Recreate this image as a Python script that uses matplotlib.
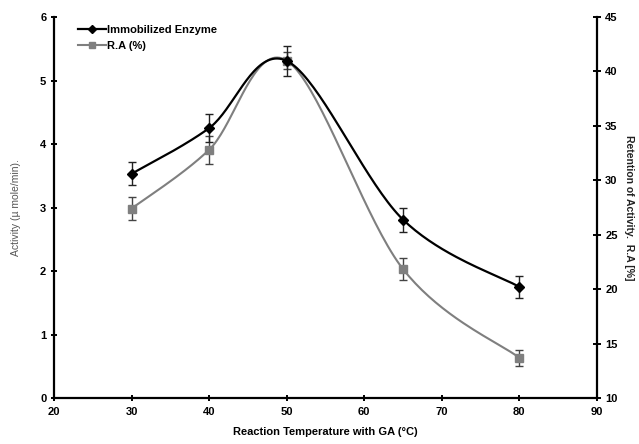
import numpy as np
import matplotlib
matplotlib.use("Agg")
import matplotlib.pyplot as plt
from matplotlib.lines import Line2D

plt.rcParams['font.family'] = ['Liberation Sans', 'DejaVu Sans']

# Data
temperature = [30, 40, 50, 65, 80]
activity = [3.53, 4.25, 5.31, 2.81, 1.75]          # µ mole/min
activity_err = [0.18, 0.22, 0.24, 0.19, 0.17]
retention = [27.4, 32.8, 41.0, 21.85, 13.7]        # R.A (%)
retention_err = [1.05, 1.3, 0.8, 1.0, 0.75]

x_ticks = [20, 30, 40, 50, 60, 70, 80, 90]
left_ticks = [0, 1, 2, 3, 4, 5, 6]
right_ticks = [10, 15, 20, 25, 30, 35, 40, 45]


def smooth(xs, ys, n=40):
    """Bezier smoothing through points (tangent = (P[i+1]-P[i-1])/6)."""
    p = np.column_stack([xs, ys]).astype(float)
    m = len(p)
    out = []
    for i in range(m - 1):
        p0 = p[max(i - 1, 0)]
        p1 = p[i]
        p2 = p[i + 1]
        p3 = p[min(i + 2, m - 1)]
        c1 = p1 + (p2 - p0) / 6.0
        c2 = p2 - (p3 - p1) / 6.0
        t = np.linspace(0, 1, n)[:, None]
        seg = ((1 - t) ** 3) * p1 + 3 * ((1 - t) ** 2) * t * c1 + 3 * (1 - t) * t ** 2 * c2 + t ** 3 * p2
        out.append(seg if i == 0 else seg[1:])
    out = np.vstack(out)
    return out[:, 0], out[:, 1]


fig = plt.figure(figsize=(6.39, 4.44), dpi=100)
ax = fig.add_axes([0.0845, 0.1036, 0.8495, 0.8581])
ax2 = ax.twinx()

gray = '#7f7f7f'

# Retention series (right axis)
sx, sy = smooth(temperature, retention)
ax2.plot(sx, sy, color=gray, lw=1.5, zorder=2)
ax2.errorbar(temperature, retention, yerr=retention_err, fmt='none',
             ecolor='#444444', elinewidth=1.0, capsize=3, capthick=1.0, zorder=3)
ax2.plot(temperature, retention, ls='none', marker='s', ms=6,
         color=gray, zorder=4)

# Activity series (left axis)
bx, by = smooth(temperature, activity)
ax.plot(bx, by, color='black', lw=1.6, zorder=2)
ax.errorbar(temperature, activity, yerr=activity_err, fmt='none',
            ecolor='#222222', elinewidth=1.0, capsize=3, capthick=1.0, zorder=3)
ax.plot(temperature, activity, ls='none', marker='D', ms=5, color='black', zorder=4)

# bring left axis artists above the twin
ax.set_zorder(ax2.get_zorder() + 1)
ax.patch.set_visible(False)

ax.set_xlim(20, 90)
ax.set_ylim(0, 6)
ax2.set_ylim(10, 45)
ax.set_xticks(x_ticks)
ax.set_yticks(left_ticks)
ax2.set_yticks(right_ticks)

for a in (ax, ax2):
    a.spines['top'].set_visible(False)
    for s in ('left', 'bottom', 'right'):
        a.spines[s].set_linewidth(1.6)
ax.spines['right'].set_visible(False)
ax2.spines['left'].set_visible(False)
ax2.spines['bottom'].set_visible(False)

ax.tick_params(axis='x', direction='inout', length=5, width=1.4, pad=4, labelsize=8)
ax.tick_params(axis='y', direction='inout', length=5, width=1.4, pad=3, labelsize=8)
ax2.tick_params(axis='y', direction='inout', length=6, width=1.4, pad=3, labelsize=8)
for lab in ax.get_xticklabels() + ax.get_yticklabels() + ax2.get_yticklabels():
    lab.set_fontweight('bold')

ax.set_xlabel('Reaction Temperature with GA (°C)', fontsize=8, fontweight='bold', labelpad=7)
ax.set_ylabel('Activity (µ mole/min).', fontsize=7.5, color='#555555', labelpad=14)
ax2.set_ylabel('Retention of Activity.  R.A [%]', fontsize=7.5, fontweight='bold',
               color='#222222', rotation=-90, labelpad=12)

# Legend
handles = [
    Line2D([], [], color='black', lw=1.6, marker='D', ms=4),
    Line2D([], [], color=gray, lw=1.5, marker='s', ms=5),
]
ax.legend(handles, ['Immobilized Enzyme', 'R.A (%)'], loc='upper left',
          bbox_to_anchor=(0.025, 1.005), frameon=False, handlelength=2.6,
          handletextpad=0.05, labelspacing=0.55,
          prop=dict(family='Liberation Sans', weight='bold', size=8))

fig.savefig('out.png', dpi=100)
